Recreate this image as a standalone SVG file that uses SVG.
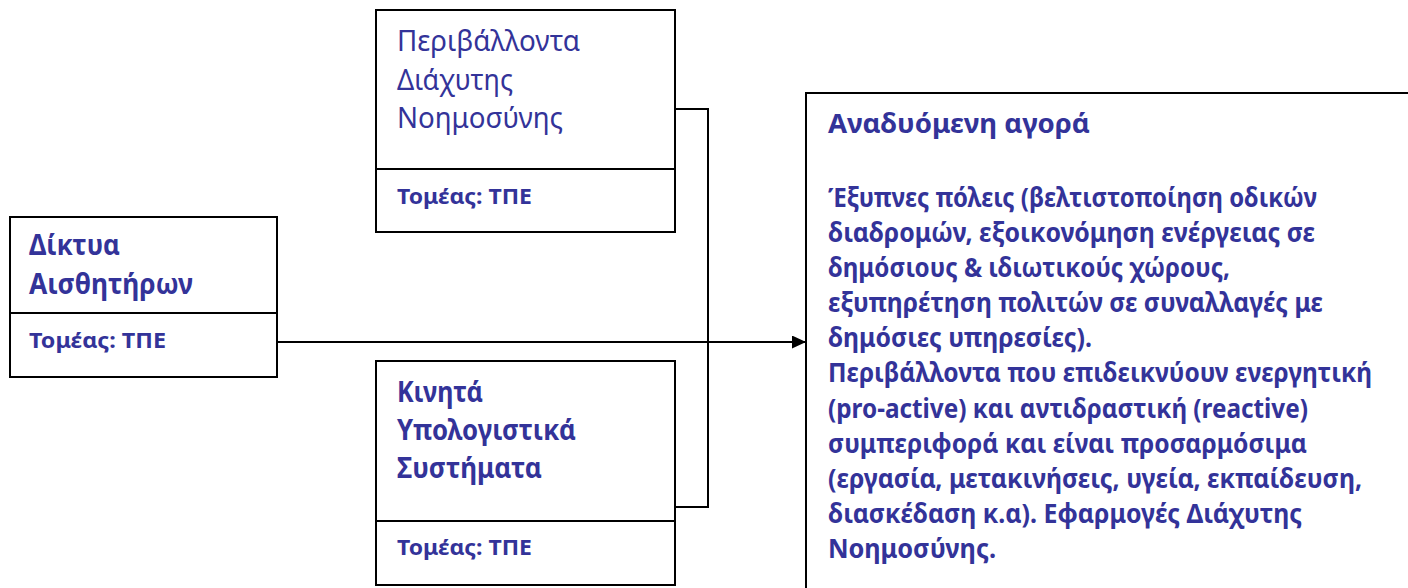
<svg xmlns="http://www.w3.org/2000/svg" width="1408" height="588" viewBox="0 0 1408 588">
  <style>
    .box { fill: #ffffff; stroke: #000000; stroke-width: 2; }
    .rule { stroke: #000000; stroke-width: 2; }
    .wire { fill: none; stroke: #000000; stroke-width: 2; }
    text { font-family: "Noto Sans", "Open Sans", "DejaVu Sans", sans-serif; fill: #333399; }
    .title { font-size: 29px; }
    .title-b { font-size: 29px; font-weight: bold; }
    .sector { font-size: 22px; font-weight: bold; }
    .body { font-size: 26px; font-weight: bold; }
  </style>
  <defs>
    <marker id="arrow" viewBox="0 0 14 13" refX="14" refY="6.5" markerWidth="14" markerHeight="13" markerUnits="userSpaceOnUse" orient="auto">
      <path d="M0,0 L14,6.5 L0,13 Z" fill="#000000"/>
    </marker>
  </defs>

  <!-- connectors -->
  <g id="connectors">
    <path class="wire" d="M675,109 H708 V507 H675"/>
    <path class="wire" d="M277,342 H806" marker-end="url(#arrow)"/>
  </g>

  <!-- Ambient intelligence environments -->
  <g id="node-ambient">
    <rect class="box" x="376" y="10" width="299" height="222"/>
    <line class="rule" x1="376" y1="169" x2="675" y2="169"/>
    <text class="title" x="397" y="51" textLength="183" lengthAdjust="spacingAndGlyphs">Περιβάλλοντα</text>
    <text class="title" x="397" y="90" textLength="116" lengthAdjust="spacingAndGlyphs">Διάχυτης</text>
    <text class="title" x="397" y="128" textLength="166" lengthAdjust="spacingAndGlyphs">Νοημοσύνης</text>
    <text class="sector" x="397" y="204" textLength="135" lengthAdjust="spacingAndGlyphs">Τομέας: ΤΠΕ</text>
  </g>

  <!-- Sensor networks -->
  <g id="node-sensors">
    <rect class="box" x="10" y="217" width="267" height="160"/>
    <line class="rule" x1="10" y1="313" x2="277" y2="313"/>
    <text class="title-b" x="29" y="255" textLength="91" lengthAdjust="spacingAndGlyphs">Δίκτυα</text>
    <text class="title-b" x="29" y="294" textLength="164" lengthAdjust="spacingAndGlyphs">Αισθητήρων</text>
    <text class="sector" x="29" y="348" textLength="137" lengthAdjust="spacingAndGlyphs">Τομέας: ΤΠΕ</text>
  </g>

  <!-- Mobile computing systems -->
  <g id="node-mobile">
    <rect class="box" x="376" y="361" width="299" height="224"/>
    <line class="rule" x1="376" y1="521" x2="675" y2="521"/>
    <text class="title-b" x="397" y="402" textLength="86" lengthAdjust="spacingAndGlyphs">Κινητά</text>
    <text class="title-b" x="397" y="440" textLength="179" lengthAdjust="spacingAndGlyphs">Υπολογιστικά</text>
    <text class="title-b" x="397" y="478" textLength="145" lengthAdjust="spacingAndGlyphs">Συστήματα</text>
    <text class="sector" x="397" y="555" textLength="135" lengthAdjust="spacingAndGlyphs">Τομέας: ΤΠΕ</text>
  </g>

  <!-- Emerging market -->
  <g id="node-market">
    <rect class="box" x="806" y="93" width="700" height="600"/>
    <text class="body" x="828" y="133" textLength="262" lengthAdjust="spacingAndGlyphs">Αναδυόμενη αγορά</text>
    <text class="body" x="828" y="207" textLength="489" lengthAdjust="spacingAndGlyphs">Έξυπνες πόλεις (βελτιστοποίηση οδικών</text>
    <text class="body" x="828" y="242" textLength="487" lengthAdjust="spacingAndGlyphs">διαδρομών, εξοικονόμηση ενέργειας σε</text>
    <text class="body" x="828" y="277" textLength="402" lengthAdjust="spacingAndGlyphs">δημόσιους &amp; ιδιωτικούς χώρους,</text>
    <text class="body" x="828" y="312" textLength="495" lengthAdjust="spacingAndGlyphs">εξυπηρέτηση πολιτών σε συναλλαγές με</text>
    <text class="body" x="828" y="347" textLength="264" lengthAdjust="spacingAndGlyphs">δημόσιες υπηρεσίες).</text>
    <text class="body" x="828" y="382" textLength="544" lengthAdjust="spacingAndGlyphs">Περιβάλλοντα που επιδεικνύουν ενεργητική</text>
    <text class="body" x="828" y="418" textLength="480" lengthAdjust="spacingAndGlyphs">(pro-active) και αντιδραστική (reactive)</text>
    <text class="body" x="828" y="453" textLength="479" lengthAdjust="spacingAndGlyphs">συμπεριφορά και είναι προσαρμόσιμα</text>
    <text class="body" x="828" y="488" textLength="534" lengthAdjust="spacingAndGlyphs">(εργασία, μετακινήσεις, υγεία, εκπαίδευση,</text>
    <text class="body" x="828" y="523" textLength="474" lengthAdjust="spacingAndGlyphs">διασκέδαση κ.α). Εφαρμογές Διάχυτης</text>
    <text class="body" x="828" y="558" textLength="168" lengthAdjust="spacingAndGlyphs">Νοημοσύνης.</text>
  </g>
</svg>
